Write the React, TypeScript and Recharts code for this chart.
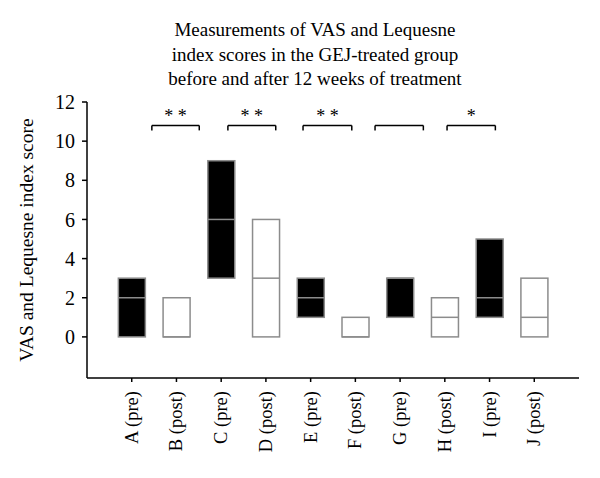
import React from 'react';
import {
  ComposedChart,
  Bar,
  XAxis,
  YAxis,
  ReferenceLine,
} from 'recharts';

// categories and box values (min / median / max)
const categories = ['A (pre)', 'B (post)', 'C (pre)', 'D (post)', 'E (pre)', 'F (post)', 'G (pre)', 'H (post)', 'I (pre)', 'J (post)'];
const phases = ['pre', 'post', 'pre', 'post', 'pre', 'post', 'pre', 'post', 'pre', 'post'];
const lows = [0, 0, 3, 0, 1, 0, 1, 0, 1, 0];
const medians = [2, 0, 6, 3, 2, 0, 3, 1, 2, 1];
const highs = [3, 2, 9, 6, 3, 1, 3, 2, 5, 3];
const yTicks = [0, 2, 4, 6, 8, 10, 12];

// significance brackets (x in category index units)
const bracketStarts = [0.45, 2.15, 3.83, 5.44, 7.05];
const bracketEnds = [1.51, 3.22, 4.92, 6.52, 8.13];
const bracketMarks = ['* *', '* *', '* *', '', '*'];
const bracketLevel = 10.8;
const bracketDrop = 0.25;

const data = categories.map((name, i) => ({
  idx: i,
  name,
  phase: phases[i],
  low: lows[i],
  median: medians[i],
  high: highs[i],
}));

const BORDER = '#8c8c8c';

const BoxShape = (props: any) => {
  const { x, y, width, height, payload } = props;
  const bottom = y + height;
  const span = payload.high - payload.low;
  const my = span > 0 ? bottom - ((payload.median - payload.low) / span) * height : bottom;
  const fill = payload.phase === 'pre' ? '#000' : '#fff';
  return (
    <g>
      <rect x={x} y={y} width={width} height={height} fill={fill} stroke={BORDER} strokeWidth={1.5} />
      <line x1={x} x2={x + width} y1={my} y2={my} stroke={BORDER} strokeWidth={1.5} />
    </g>
  );
};

const XTick = (props: any) => {
  const { x, y, payload } = props;
  return (
    <text
      x={x}
      y={y}
      transform={`rotate(-90 ${x} ${y})`}
      textAnchor="end"
      dominantBaseline="central"
      fontSize={18.5}
      fill="#000"
    >
      {categories[payload.value]}
    </text>
  );
};

const App: React.FC = () => {
  return (
    <div
      style={{
        position: 'absolute',
        left: 0,
        top: 0,
        width: 600,
        height: 478,
        background: '#fff',
        fontFamily: '"Liberation Serif", serif',
      }}
    >
      <div
        style={{
          position: 'absolute',
          left: 0,
          top: 18,
          width: 630,
          textAlign: 'center',
          fontSize: 19,
          lineHeight: '24.5px',
          color: '#000',
        }}
      >
        Measurements of VAS and Lequesne
        <br />
        index scores in the GEJ-treated group
        <br />
        before and after 12 weeks of treatment
      </div>
      <div style={{ position: 'absolute', left: 0, top: 0 }}>
        <ComposedChart
          width={600}
          height={478}
          data={data}
          margin={{ top: 102, right: 21, left: 0, bottom: 0 }}
        >
          <XAxis
            dataKey="idx"
            type="number"
            domain={[-1, 10]}
            ticks={categories.map((_, i) => i)}
            interval={0}
            height={100}
            tick={<XTick />}
            tickSize={4}
            tickMargin={9}
            axisLine={{ stroke: '#000', strokeWidth: 1.5 }}
            tickLine={{ stroke: '#000', strokeWidth: 1.5 }}
          />
          <XAxis
            xAxisId="top"
            orientation="top"
            dataKey="idx"
            type="number"
            domain={[-1, 10]}
            height={0}
            tick={false}
            tickLine={false}
            axisLine={{ stroke: '#000', strokeWidth: 1.5 }}
          />
          <YAxis
            type="number"
            domain={[-2.1, 12]}
            ticks={yTicks}
            width={87}
            tickSize={5}
            tickMargin={7}
            tick={{ fill: '#000', fontSize: 20 }}
            axisLine={{ stroke: '#000', strokeWidth: 1.5 }}
            tickLine={{ stroke: '#000', strokeWidth: 1.5 }}
            label={{
              value: 'VAS and Lequesne index score',
              angle: -90,
              position: 'insideLeft',
              offset: 26,
              style: { textAnchor: 'middle', fontSize: 19.5, fill: '#000' },
            }}
          />
          <YAxis
            yAxisId="right"
            orientation="right"
            width={0}
            tick={false}
            tickLine={false}
            axisLine={{ stroke: '#000', strokeWidth: 1.5 }}
          />
          <Bar
            dataKey={(d: any) => [d.low, d.high]}
            barSize={27}
            shape={<BoxShape />}
            isAnimationActive={false}
          />
          {bracketStarts.map((start, i) => (
            <ReferenceLine
              key={`h${i}`}
              segment={[
                { x: start, y: bracketLevel },
                { x: bracketEnds[i], y: bracketLevel },
              ]}
              stroke="#000"
              strokeWidth={1.5}
              label={
                bracketMarks[i]
                  ? { value: bracketMarks[i], position: 'top', fontSize: 18, fill: '#000', offset: 3 }
                  : undefined
              }
            />
          ))}
          {bracketStarts.map((start, i) => (
            <ReferenceLine
              key={`l${i}`}
              segment={[
                { x: start, y: bracketLevel },
                { x: start, y: bracketLevel - bracketDrop },
              ]}
              stroke="#000"
              strokeWidth={1.5}
            />
          ))}
          {bracketEnds.map((end, i) => (
            <ReferenceLine
              key={`r${i}`}
              segment={[
                { x: end, y: bracketLevel },
                { x: end, y: bracketLevel - bracketDrop },
              ]}
              stroke="#000"
              strokeWidth={1.5}
            />
          ))}
        </ComposedChart>
      </div>
    </div>
  );
};

export default App;
